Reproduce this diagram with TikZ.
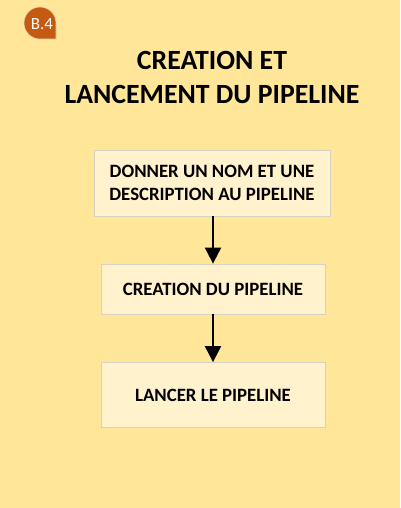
\documentclass[tikz,border=0pt]{standalone}
\usepackage{fontspec}
\setmainfont{Carlito}
\usetikzlibrary{arrows.meta}
\definecolor{fond}{HTML}{FFE699}
\definecolor{boite}{HTML}{FFF2CC}
\definecolor{bord}{HTML}{D6D3C4}
\definecolor{badge}{HTML}{C55A11}
\begin{document}
\begin{tikzpicture}[x=1pt,y=1pt]

          \fill[fond] (0,0) rectangle (400,-508);
          \useasboundingbox (0,0) rectangle (400,-508);

          \fill[badge,draw=white!70!badge,line width=.6pt] (56,-23) arc (0:270:16) -- (56,-39) -- cycle;
          \node[text=white,font=\fontsize{17}{17}\selectfont] (badge) at (42,-24) {B.4};

          \node[align=center,font=\fontsize{27.8}{34}\selectfont\bfseries] (titre) at (212,-77)
            {CREATION ET\\LANCEMENT DU PIPELINE};

          \begin{scope}[every node/.style={rectangle,draw=bord,fill=boite,line width=.8pt,
              align=center,font=\fontsize{18.8}{23}\selectfont\bfseries,inner sep=0pt}]
            \node[minimum width=236,minimum height=66] (1) at (212,-183)
              {DONNER UN NOM ET UNE\\DESCRIPTION AU PIPELINE};
            \node[minimum width=224,minimum height=50] (2) at (213,-289) {CREATION DU PIPELINE};
            \node[minimum width=224,minimum height=65] (3) at (213,-395) {LANCER LE PIPELINE};
          \end{scope}

          \begin{scope}[every edge/.style={draw,line width=2pt,-{Triangle[width=16pt,length=16pt]}}]
            \path (1.south -| 2.north) edge (2.north);
            \path (2) edge (3);
          \end{scope}

        \end{tikzpicture}
\end{document}
